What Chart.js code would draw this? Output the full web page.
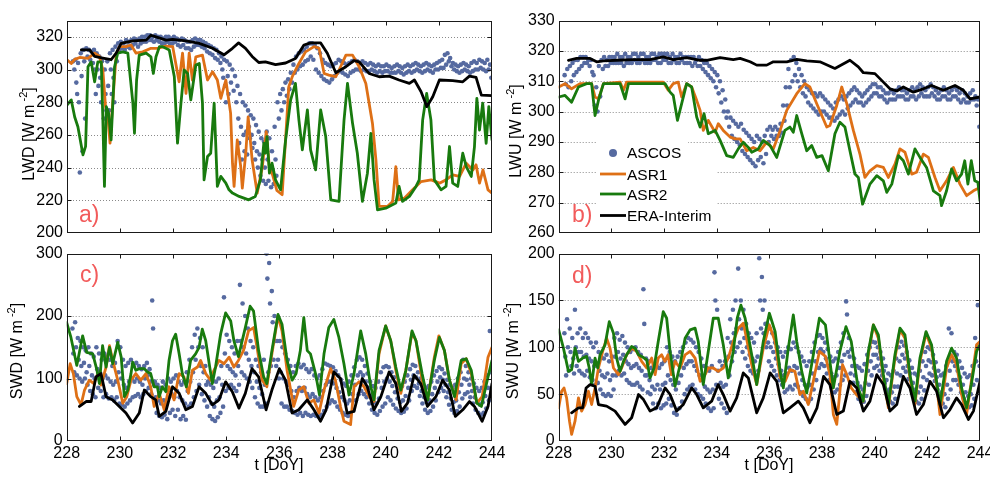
<!DOCTYPE html>
<html><head><meta charset="utf-8">
<script src="https://cdn.jsdelivr.net/npm/chart.js@4.4.1/dist/chart.umd.min.js"></script>
<style>
html,body{margin:0;padding:0;background:#fff;overflow:hidden;width:990px;height:480px;position:relative;}
canvas{position:absolute;}
</style></head><body>
<canvas id="ca"></canvas><canvas id="cb"></canvas><canvas id="cc"></canvas><canvas id="cd"></canvas>
<script>
// ---------- axis ticks ----------
const xTicks = [228,230,232,234,236,238,240,242,244];
const yTicksA = [200,220,240,260,280,300,320];
const yTicksB = [260,270,280,290,300,310,320,330];
const yTicksC = [0,100,200,300];
const yTicksD = [0,50,100,150,200];
const seriesNames = ['ASCOS','ASR1','ASR2','ERA-Interim'];

// ---------- ASCOS observations: bins of 0.1 day starting at 228.2, several readings per bin ----------
const ascosT0 = 228.2, ascosDt = 0.1;
const ascosA = [
[305,300],[306,292,285],[304,280,237],[310,296,250],[312,305,270],[313,308],[312,306],[311,304],[312,300,285],[310,300,290],
[308,295,280],[305,290,270],[300,285,275],[305,290,275],[310,300,285],[312,295,280],[314,305],[316,312],[317,313],[316,312],
[318,314],[317,313],[318,315],[319,316],[318,314],[319,316],[320,317],[320,317],[321,318],[321,318],
[320,317],[321,318],[320,317],[320,316],[319,316],[320,317],[320,316],[319,316],[320,317],[319,315],
[318,314],[319,315],[318,313],[317,313],[317,312],[318,314],[319,315],[318,315],[318,314],[317,313],
[316,311],[315,310],[314,309],[313,307],[312,306],[310,304],[308,300,295],[306,290,280],[305,296,285],[303,292],
[300,287],[296,280],[290,270,255],[285,265,245],[280,260,250],[278,262,248],[275,265,258],[272,260,252],[270,255,245],[266,250,240],
[262,248,235],[258,245,232],[256,240,230],[262,245,232],[258,240,228],[250,238,230],[265,245,235],[280,270],[285,275],[288,280],
[292,284],[294,288],[298,292],[303,298],[308,300],[310,302],[311,303],[312,305],[314,306],[316,308],
[316,306],[315,300],[313,298],[310,296],[306,294],[304,293],[303,292],[302,294],[303,296],[304,298],
[306,299],[305,298],[304,297],[303,296],[304,298],[305,299],[306,300],[305,300],[304,299],[305,300],
[304,299],[303,299],[304,300],[303,299],[302,298],[303,299],[302,298],[302,299],[303,299],[302,298],
[301,298],[302,298],[303,299],[302,298],[301,297],[302,298],[303,299],[302,298],[303,299],[304,300],
[303,299],[302,298],[303,299],[304,300],[303,299],[302,298],[303,300],[304,300],[305,301],[306,301],
[309,303],[310,305],[307,302],[304,300],[303,299],[302,298],[303,299],[304,300],[303,299],[302,298],
[304,299],[305,300],[304,300],[306,301],[305,300],[304,299],[306,300],[303,295]];
const ascosB = [
[312,309],[314,308],[315,310],[316,312],[317,313],[317,314],[318,315],[318,316],[318,316],[317,315],
[317,313],[312,302],[308,300],[315,305],[317,314],[318,315],[317,315],[318,316],[318,316],[318,316],
[319,316],[318,316],[318,315],[319,316],[318,316],[318,316],[319,317],[319,316],[318,316],[319,317],
[319,316],[318,316],[318,316],[319,317],[319,317],[318,316],[319,316],[319,317],[319,317],[319,316],
[318,316],[319,317],[318,316],[318,316],[319,317],[318,316],[318,316],[318,316],[318,315],[318,316],
[317,315],[318,315],[317,314],[316,313],[316,312],[315,311],[314,310],[313,308],[312,306],[310,303],
[307,300],[304,298],[300,295],[298,292],[297,291],[296,290],[295,289],[296,287],[294,286],[293,285],
[292,284],[291,283],[290,282],[292,284],[291,285],[290,283],[292,286],[294,290],[295,292],[294,291],
[295,292],[294,292],[296,293],[302,297],[308,302],[314,308],[317,310],[318,312],[316,310],[314,308],
[312,306],[310,305],[308,303],[307,302],[306,301],[306,300],[305,299],[306,300],[305,300],[304,299],
[303,298],[302,298],[301,297],[303,298],[304,299],[305,300],[304,299],[305,301],[306,302],[307,303],
[308,304],[307,303],[306,303],[305,302],[306,303],[307,304],[308,305],[309,306],[309,306],[308,305],
[308,305],[307,304],[306,303],[306,304],[307,304],[306,304],[307,305],[308,305],[307,305],[307,304],
[306,304],[307,305],[308,305],[307,304],[308,305],[309,306],[308,305],[307,305],[308,305],[309,306],
[308,305],[307,304],[306,304],[307,305],[308,305],[307,304],[306,304],[307,305],[308,305],[307,304],
[306,303],[307,304],[306,303],[305,303],[306,304],[307,304],[305,302],[304,295]];
const ascosC = [
[180,140,110],[190,150,105],[165,130,100],[160,120,95],[150,125,100],[145,110,90],[150,120,80],[140,105,75],[135,100,70],[150,115,85],
[140,110,80],[130,100,70],[140,105,75],[135,100,68],[130,95,70],[120,90,65],[125,95,70],[160,110,60],[150,100,58],[130,90,55],
[120,85,60],[125,95,65],[130,100,70],[120,95,72],[125,100,75],[120,95,70],[115,90,75],[120,100,80],[125,105,85],[115,95,75],
[225,180,90],[95,70,45],[90,65,40],[85,60,38],[95,65,42],[90,60,35],[100,70,45],[95,75,50],[100,70,40],[105,80,50],
[95,70,35],[90,65,40],[95,60,34],[110,80,55],[130,95,60],[150,110,70],[170,130,80],[180,150,90],[165,120,75],[150,110,65],
[120,90,55],[95,70,40],[90,60,35],[85,55,32],[95,65,38],[100,70,45],[120,90,55],[230,140,80],[170,120,85],[160,115,90],
[150,110,85],[140,105,80],[160,120,90],[250,160,110],[220,150,105],[200,140,100],[180,130,95],[160,120,85],[150,110,70],[130,95,60],
[120,85,55],[110,75,55],[130,90,60],[300,260,110],[285,220,120],[240,190,130],[200,160,120],[160,130,100],[160,110,60],[150,100,55],
[140,95,55],[130,90,50],[120,80,48],[110,70,45],[120,80,42],[124,85,45],[118,80,40],[122,85,45],[115,75,42],[110,70,40],
[115,75,42],[105,70,40],[100,65,39],[105,70,42],[115,80,48],[124,90,55],[122,95,60],[120,95,65],[118,92,62],[112,85,55],
[105,78,50],[98,70,45],[92,65,42],[88,60,40],[95,65,45],[105,75,50],[118,90,65],[130,105,75],[134,110,80],[130,105,75],
[120,95,70],[108,85,60],[95,72,50],[88,62,45],[85,60,42],[95,68,48],[110,85,55],[118,95,60],[120,100,70],[118,95,65],
[110,88,58],[102,78,52],[92,68,48],[85,62,45],[88,65,47],[95,72,52],[105,85,65],[115,98,80],[122,105,88],[120,102,85],
[110,92,72],[100,80,60],[90,70,50],[85,62,45],[88,65,48],[95,75,55],[105,85,65],[112,95,78],[118,102,85],[115,98,80],
[108,90,70],[98,78,58],[90,68,50],[85,62,45],[90,65,48],[100,78,55],[110,90,68],[130,100,75],[120,98,78],[110,90,70],
[100,80,60],[92,70,50],[85,62,45],[80,58,42],[85,62,45],[95,72,52],[105,85,65],[176,110,80]];
const ascosD = [
[115,90,70],[130,100,75],[120,95,80],[110,88,72],[140,100,80],[115,95,75],[120,95,72],[110,90,70],[115,92,75],[110,88,68],
[105,85,65],[100,80,60],[105,82,62],[95,75,55],[90,70,50],[88,68,48],[92,72,50],[85,65,48],[90,70,55],[110,90,70],
[115,95,75],[108,88,70],[112,92,72],[105,85,65],[100,82,62],[95,78,60],[98,80,60],[100,82,62],[95,78,58],[92,75,55],
[162,125,70],[88,70,52],[85,65,50],[78,58,40],[75,55,35],[80,60,40],[78,55,35],[82,60,38],[85,62,40],[100,70,45],
[95,65,38],[90,60,30],[85,55,28],[90,62,35],[95,70,42],[100,78,50],[105,82,55],[110,85,58],[108,85,60],[105,80,55],
[100,75,50],[95,70,48],[88,65,45],[80,58,40],[78,55,35],[75,52,32],[80,55,35],[180,150,60],[140,75,45],[85,62,40],
[80,58,35],[85,60,30],[110,90,70],[130,105,85],[140,115,95],[150,120,100],[184,130,105],[150,120,95],[140,110,88],[125,100,80],
[115,92,75],[110,88,72],[105,85,70],[115,90,75],[195,150,120],[175,140,115],[150,125,100],[125,105,85],[120,100,80],[115,95,75],
[105,88,70],[100,82,65],[95,75,60],[90,70,52],[95,72,55],[100,78,58],[98,75,55],[105,80,60],[100,78,58],[95,72,52],
[90,65,48],[85,60,45],[80,58,42],[85,60,45],[95,72,55],[105,85,65],[112,95,78],[113,98,82],[110,95,80],[105,88,72],
[98,80,65],[90,72,58],[85,68,52],[88,70,55],[95,78,60],[105,85,65],[115,92,70],[149,135,95],[110,90,72],[98,80,62],
[88,70,52],[80,62,45],[78,58,42],[75,55,42],[82,62,48],[92,75,60],[100,85,70],[106,92,78],[105,92,80],[100,88,75],
[95,82,70],[88,75,62],[80,65,52],[72,55,42],[70,52,40],[75,58,45],[88,72,58],[100,85,70],[106,92,78],[102,88,74],
[95,80,66],[86,72,58],[78,62,48],[72,55,42],[70,52,40],[75,58,45],[85,68,54],[95,80,65],[100,86,72],[98,84,70],
[92,78,64],[84,68,55],[75,60,46],[70,52,40],[72,50,36],[80,60,45],[120,75,55],[115,85,65],[95,80,65],[92,75,60],
[85,68,52],[78,60,45],[72,52,40],[68,48,36],[70,50,38],[80,60,45],[110,85,65],[145,100,80]];

// ---------- model series: [DoY, value] ----------
const asr1A = [[228,306],[228.16,303.7],[228.29,306.2],[228.48,307.4],[228.79,306.8],[229.04,310],[229.22,308],[229.35,299.7],[229.45,277.3],[229.54,271],[229.62,255],[229.72,279.4],[229.85,308.8],[229.97,314],[230.22,314],[230.41,315],[230.6,310],[230.85,310.8],[231.16,313],[231.41,313],[231.72,314.3],[231.98,314],[232.22,292.5],[232.35,310],[232.48,285.4],[232.6,310],[232.72,293.6],[232.85,307.8],[233.1,308.8],[233.29,293.6],[233.48,298.6],[233.66,293.6],[233.79,282.4],[233.98,293.6],[234.16,273.2],[234.23,242.7],[234.29,228.5],[234.41,257],[234.54,240.6],[234.6,227.5],[234.73,248.8],[234.82,271],[234.97,244.7],[235.16,224.4],[235.35,240],[235.5,262],[235.62,240],[235.75,235],[235.9,226],[236.1,223.4],[236.35,289.5],[236.48,295.6],[236.73,303.7],[236.98,310.8],[237.3,314],[237.49,313],[237.68,297.6],[237.86,296.6],[238.12,295.6],[238.3,301.7],[238.5,308.8],[238.75,308.8],[239.0,301.7],[239.25,291.5],[239.5,267],[239.63,244.7],[239.75,216.3],[240.07,216.3],[240.26,219.3],[240.38,240.6],[240.48,220.3],[240.7,221.3],[241.01,226.4],[241.33,231.5],[241.71,232.5],[242.02,230.5],[242.27,232.5],[242.52,235.6],[242.78,234.6],[243.03,242.7],[243.28,238.6],[243.4,241.7],[243.53,230.5],[243.66,238.6],[243.85,226.4],[244,224.4]];
const asr2A = [[228,278.3],[228.16,281.4],[228.29,271],[228.41,265],[228.6,247.8],[228.7,253],[228.79,301.7],[228.91,304.7],[229.04,292.5],[229.16,304.7],[229.29,304.7],[229.35,269],[229.41,228.5],[229.48,277.3],[229.57,273.2],[229.66,257],[229.79,301.7],[229.91,310],[230.1,310.8],[230.29,310],[230.48,279.4],[230.54,261],[230.62,293.6],[230.72,308.8],[230.98,310],[231.16,307.8],[231.25,297.6],[231.35,307.8],[231.48,314],[231.6,314],[231.72,313],[231.85,312],[232.04,295.6],[232.16,255],[232.29,279.4],[232.41,299.7],[232.54,297.6],[232.66,281.4],[232.85,302.7],[232.98,303.7],[233.1,279.4],[233.16,232.5],[233.29,246.8],[233.41,248.8],[233.54,279.4],[233.66,228.5],[233.79,234.6],[233.98,230.5],[234.1,226.4],[234.23,224.4],[234.48,222.4],[234.84,220.3],[235.09,222.4],[235.28,232.5],[235.41,255],[235.47,248.8],[235.53,259],[235.62,236.6],[235.72,242.7],[235.85,232.5],[236.04,226.4],[236.23,257],[236.42,281.4],[236.6,291.5],[236.73,269.2],[236.86,250.9],[237.05,275.3],[237.17,250.9],[237.36,238.6],[237.55,275.3],[237.74,259],[237.93,220.3],[238.24,219.3],[238.43,269.2],[238.56,291.5],[238.75,267.1],[238.93,248.8],[239.12,219.3],[239.31,236.6],[239.44,261],[239.56,232.5],[239.69,214.2],[240.0,215.2],[240.38,218.3],[240.5,228.5],[240.63,219.3],[240.89,222.4],[241.14,228.5],[241.26,232.5],[241.39,269.2],[241.54,285.4],[241.7,269.2],[241.83,232.5],[242.08,226.4],[242.27,228.5],[242.4,252.9],[242.52,230.5],[242.71,228.5],[242.9,248.8],[243.03,240.6],[243.22,234.6],[243.34,252.9],[243.43,282.4],[243.53,263],[243.65,279.4],[243.78,254.9],[243.88,277.3],[244,257]];
const eraA = [[228.54,312],[228.85,312],[229.04,308],[229.35,307],[229.66,306],[229.85,310],[230.04,316],[230.48,317.5],[230.98,318],[231.16,321],[231.35,320],[231.73,318],[231.98,318.4],[232.48,317.5],[232.98,316],[233.48,313],[233.91,309],[234.23,313],[234.46,316.3],[234.72,313],[234.97,308],[235.22,304.3],[235.47,304.7],[235.85,303],[236.23,304],[236.6,306.8],[236.92,315],[237.17,316.3],[237.55,316.3],[237.8,310],[238.12,298],[238.5,301.7],[238.8,305.4],[239.0,304.7],[239.37,297.6],[239.75,295.6],[240.13,296],[240.5,293.6],[240.89,291.5],[241.08,293.6],[241.33,286.4],[241.55,277.3],[241.77,283.4],[242.02,293.6],[242.52,293.2],[242.9,292.5],[243.15,296],[243.4,295.2],[243.6,284.4],[244,284]];

const asr1B = [[228,308.1],[228.24,309.2],[228.49,307.5],[228.81,309.2],[229.25,309.2],[229.38,304.8],[229.51,304.2],[229.7,309.2],[230.33,309.7],[230.46,307],[230.58,309.7],[231.47,309.7],[231.97,309.7],[232.16,307],[232.35,309.2],[232.54,309.7],[232.67,304.8],[232.86,309.2],[233.05,308.1],[233.24,303.7],[233.37,300.4],[233.49,293.8],[233.68,297.1],[233.94,293.2],[234.06,296],[234.25,293.8],[234.51,291.6],[234.7,291],[234.89,291],[235.14,287.1],[235.39,288.2],[235.65,287.1],[235.9,289.9],[236.15,287.7],[236.41,293.8],[236.66,300.4],[237.04,305.9],[237.35,309.2],[237.54,308.1],[237.8,302.6],[238.18,294.9],[238.3,295.4],[238.56,302],[238.75,308.1],[238.94,302.6],[239.19,293.8],[239.44,286],[239.63,278.3],[239.82,280.5],[240.08,282.2],[240.33,281.6],[240.52,278.3],[240.77,282.7],[240.96,287.7],[241.15,286.6],[241.41,279.4],[241.59,280],[241.85,286],[242.04,284.9],[242.29,278.3],[242.48,273.9],[242.73,277.2],[242.99,281.6],[243.24,276.1],[243.49,272.3],[243.75,273.9],[244,275]];
const asr2B = [[228,304.8],[228.24,305.3],[228.49,303.1],[228.75,308.1],[229.06,309.2],[229.25,309.2],[229.38,298.7],[229.51,303.7],[229.7,309.2],[230.33,309.2],[230.52,304.2],[230.65,309.2],[232.04,309.2],[232.23,306.4],[232.35,305.3],[232.51,297.1],[232.67,302.6],[232.86,309.2],[233.05,308.1],[233.24,298.2],[233.37,294.9],[233.52,299.3],[233.68,292.7],[233.94,293.8],[234.13,290.5],[234.38,285.5],[234.63,284.9],[234.82,287.7],[235.01,289.9],[235.2,288.2],[235.33,286.6],[235.58,287.7],[235.77,290.5],[236.03,288.8],[236.28,284.9],[236.59,293.8],[236.78,294.9],[236.91,293.2],[237.04,298.7],[237.23,292.7],[237.42,287.1],[237.61,288.8],[237.8,284.9],[238,285.5],[238.24,280.5],[238.49,292.7],[238.68,296.5],[238.87,294.9],[239.06,287.1],[239.25,279.4],[239.38,278.3],[239.54,269.5],[239.82,276.1],[240.08,278.9],[240.33,277.2],[240.46,273.4],[240.65,276.1],[240.9,285.5],[241.09,283.8],[241.28,279.4],[241.53,287.7],[241.72,284.9],[241.97,281.6],[242.23,273.9],[242.48,272.3],[242.54,269],[242.73,273.9],[242.92,281.1],[243.11,277.2],[243.3,279.4],[243.42,283.8],[243.54,276.1],[243.67,283.8],[243.8,277.2],[243.92,276.7],[244,270.6]];
const eraB = [[228.37,316.9],[228.68,317.5],[229.19,317.5],[229.44,316.4],[229.7,316.7],[230.2,316.9],[230.84,317.1],[231.47,317.1],[231.97,318],[232.35,317.1],[232.86,317.8],[233.37,316.9],[233.62,316.9],[234.13,317.8],[234.63,317.1],[234.89,317.5],[235.27,316.4],[235.52,315.3],[235.9,315.3],[236.15,316.4],[236.66,316.4],[237.04,317.2],[237.42,316.7],[237.92,316.4],[238.49,314.2],[239.06,316.9],[239.38,314.7],[239.57,312.8],[240.01,312.5],[240.33,309.7],[240.58,307.5],[240.84,306.8],[241.09,308.1],[241.47,306.4],[241.85,307.5],[242.16,308.6],[242.61,307],[243.05,308.6],[243.37,307],[243.62,304.2],[244,304.8]];

const asr1C = [[228,92],[228.13,123.7],[228.25,107.9],[228.38,71],[228.54,57.9],[228.67,81.6],[228.85,97.4],[229.02,92],[229.17,107.9],[229.29,89.5],[229.48,118.4],[229.61,152.6],[229.73,129],[229.92,97.4],[230.11,60.5],[230.26,71],[230.42,97.4],[230.6,107.9],[230.79,97.4],[230.98,107.9],[231.16,86.8],[231.29,55.3],[231.48,76.3],[231.67,50],[231.85,86.8],[232.04,65.8],[232.23,107.9],[232.41,102.6],[232.58,76.3],[232.73,113.2],[232.92,118.4],[233.04,129],[233.23,107.9],[233.41,97.4],[233.54,113.2],[233.73,129],[233.92,123.7],[234.11,134.2],[234.29,118.4],[234.46,129],[234.65,144.7],[234.84,176.3],[235.03,181.6],[235.16,150],[235.35,97.4],[235.53,86.8],[235.72,139.5],[235.95,200],[236.1,176.3],[236.29,113.2],[236.54,55.3],[236.73,81.6],[236.92,86.8],[237.11,60.5],[237.3,65.8],[237.49,44.7],[237.68,81.6],[237.93,115.8],[238.11,97.4],[238.3,55.3],[238.43,31.6],[238.68,26.3],[238.81,86.8],[239,94.7],[239.19,86.8],[239.38,71],[239.56,63.2],[239.75,139.5],[240,184.2],[240.19,160.5],[240.38,113.2],[240.57,76.3],[240.76,113.2],[240.99,173.7],[241.14,160.5],[241.37,97.4],[241.58,65.8],[241.83,134.2],[242,168.4],[242.21,144.7],[242.4,97.4],[242.65,65.8],[242.84,123.7],[243.03,131.6],[243.22,107.9],[243.43,60.5],[243.63,71],[243.85,134.2],[244,150]];
const asr2C = [[228,189.5],[228.16,165.8],[228.38,121],[228.6,168.4],[228.75,142],[228.98,139.5],[229.14,113],[229.23,92],[229.35,152.6],[229.48,118.4],[229.61,150],[229.73,123.7],[229.92,157.9],[230.05,134.2],[230.17,71],[230.3,81.6],[230.42,107.9],[230.48,126.3],[230.6,113.2],[230.73,115.8],[230.92,115.8],[231.04,110.5],[231.16,107.9],[231.29,86.8],[231.41,86.8],[231.48,71],[231.6,86.8],[231.73,79],[231.85,129],[231.98,160.5],[232.1,171],[232.23,139.5],[232.35,107.9],[232.5,86.8],[232.66,129],[232.85,139.5],[232.98,150],[233.1,179],[233.23,160.5],[233.38,118.4],[233.48,92],[233.6,118.4],[233.79,171],[233.98,205],[234.17,192],[234.29,160.5],[234.46,135],[234.72,181.6],[234.9,215.8],[235.03,208],[235.22,144.7],[235.41,102.6],[235.53,92],[235.72,144.7],[235.95,202.6],[236.1,186.8],[236.29,129],[236.48,97.4],[236.63,107.9],[236.79,144.7],[236.92,197.4],[237.05,144.7],[237.17,139.5],[237.36,107.9],[237.51,73.7],[237.68,139.5],[237.86,181.6],[238.05,194.7],[238.24,165.8],[238.43,123.7],[238.62,73.7],[238.81,107.9],[239.06,176.3],[239.25,139.5],[239.44,86.8],[239.56,65.8],[239.75,144.7],[240,184.2],[240.19,160.5],[240.38,118.4],[240.57,81.6],[240.76,113.2],[240.99,176.3],[241.14,160.5],[241.37,107.9],[241.58,65.8],[241.83,129],[242.02,165.8],[242.21,144.7],[242.4,97.4],[242.59,71],[242.84,129],[243.03,131.6],[243.22,113.2],[243.43,60.5],[243.6,55.3],[243.85,102.6],[244,129]];
const eraC = [[228.48,55.3],[228.73,63.2],[228.92,63.2],[229.1,102.6],[229.29,107.9],[229.48,71],[229.73,65.8],[229.98,55.3],[230.23,44.7],[230.48,28.9],[230.73,44.7],[230.92,81.6],[231.16,71],[231.35,65.8],[231.48,39.5],[231.73,47.4],[231.98,86.8],[232.23,76.3],[232.48,50],[232.73,55.3],[232.98,86.8],[233.23,76.3],[233.48,57.9],[233.73,65.8],[233.98,94.7],[234.23,78.9],[234.48,52.6],[234.72,76.3],[234.97,115.8],[235.22,102.6],[235.5,50],[235.72,81.6],[236,115.8],[236.23,97.4],[236.48,44.7],[236.73,50],[237.05,65.8],[237.3,50],[237.55,31.6],[237.76,50],[238.05,110.5],[238.3,100],[238.55,44.7],[238.81,47.4],[239.12,100],[239.31,86.8],[239.56,50],[239.82,71],[240.13,110.5],[240.38,92],[240.59,47.4],[240.82,60.5],[241.07,105.3],[241.32,92],[241.57,55.3],[241.89,71],[242.14,97.4],[242.4,81.6],[242.62,39.5],[242.9,50],[243.15,63.2],[243.34,55.3],[243.63,31.6],[243.85,55.3],[244,92]];

const asr1D = [[228,35.4],[228.11,53.1],[228.2,56.6],[228.3,46],[228.41,21.2],[228.49,7.1],[228.62,21.2],[228.75,46],[228.87,31.9],[229,38.9],[229.13,53.1],[229.25,38.9],[229.38,56.6],[229.51,77.9],[229.67,95.6],[229.82,109.7],[229.95,99.1],[230.08,77.9],[230.27,70.8],[230.39,77.9],[230.58,92],[230.77,99.1],[230.96,95.6],[231.15,85],[231.34,77.9],[231.53,88.5],[231.66,70.8],[231.78,88.5],[231.91,92],[232.03,85],[232.15,92],[232.28,70.8],[232.42,85],[232.61,77.9],[232.8,92],[232.99,95.6],[233.18,88.5],[233.37,63.7],[233.56,70.8],[233.68,77.9],[233.87,77.9],[234.06,74.3],[234.25,77.9],[234.44,88.5],[234.63,106.2],[234.82,120.4],[235.01,125.7],[235.08,116.8],[235.33,81.4],[235.52,60.2],[235.77,99.1],[236,123.9],[236.22,106.2],[236.41,67.3],[236.6,63.7],[236.78,76.1],[236.97,74.3],[237.16,49.6],[237.29,53.1],[237.48,38.9],[237.67,63.7],[237.9,95.6],[238.13,90.3],[238.3,70.8],[238.43,28.3],[238.56,17.7],[238.68,53.1],[238.78,81.4],[238.94,70.8],[239.11,56.6],[239.3,49.6],[239.56,42.5],[239.76,92],[239.95,123.9],[240.14,109.7],[240.33,67.3],[240.52,35.4],[240.77,88.5],[240.96,118.6],[241.15,109.7],[241.34,67.3],[241.53,38.9],[241.72,85],[241.95,115],[242.16,99.1],[242.35,60.2],[242.48,28.3],[242.73,77.9],[242.92,92],[243.11,81.4],[243.3,49.6],[243.49,28.3],[243.67,63.7],[243.87,102.7],[244,106.2]];
const asr2D = [[228,118.6],[228.18,99.1],[228.37,74.3],[228.49,76.1],[228.62,99.1],[228.75,85],[228.91,88.5],[229.06,90.3],[229.16,77.9],[229.25,60.2],[229.38,88.5],[229.48,77.9],[229.57,92],[229.76,102.7],[229.92,127.4],[230.08,115],[230.2,88.5],[230.33,74.3],[230.46,85],[230.58,92],[230.77,100.9],[230.9,99.1],[231.03,92],[231.15,90.3],[231.34,86.7],[231.47,67.3],[231.62,77.9],[231.78,106.2],[231.97,138],[232.1,131],[232.23,95.6],[232.42,58.4],[232.61,81.4],[232.8,109.7],[232.99,118.6],[233.18,120.4],[233.3,106.2],[233.49,60.2],[233.68,95.6],[233.87,131],[234.06,131],[234.25,102.7],[234.44,67.3],[234.63,95.6],[234.78,131],[234.92,145],[235.08,131],[235.33,92],[235.52,60.2],[235.77,106.2],[236,136.3],[236.22,116.8],[236.41,74.3],[236.53,56.6],[236.72,99.1],[236.91,134.5],[237.04,106.2],[237.23,74.3],[237.42,51.3],[237.67,92],[237.9,131],[238.13,123.9],[238.3,85],[238.43,56.6],[238.68,95.6],[238.91,122.1],[239.11,106.2],[239.37,56.6],[239.56,42.5],[239.76,95.6],[239.95,123.9],[240.14,113.3],[240.33,70.8],[240.52,38.9],[240.77,92],[240.96,120.4],[241.15,113.3],[241.34,70.8],[241.53,42.5],[241.72,88.5],[241.95,116.8],[242.16,102.7],[242.35,63.7],[242.48,38.9],[242.73,85],[242.92,99.1],[243.11,88.5],[243.3,56.6],[243.49,35.4],[243.67,60.2],[243.87,95.6],[244,102.7]];
const eraD = [[228.49,30.1],[228.75,35.4],[228.91,35.4],[229.04,56.6],[229.19,60.2],[229.38,58.4],[229.51,38.9],[229.82,37.2],[230.14,31.9],[230.52,17.7],[230.77,24.8],[231.03,49.6],[231.22,44.2],[231.47,31.9],[231.72,35.4],[232.04,56.6],[232.23,49.6],[232.48,31.9],[232.73,38.9],[233.05,56.6],[233.24,49.6],[233.49,35.4],[233.81,42.5],[234.06,60.2],[234.25,49.6],[234.51,31.9],[234.76,46],[235.01,72.6],[235.2,67.3],[235.52,30.1],[235.77,46],[236.03,72.6],[236.28,63.7],[236.53,30.1],[236.78,35.4],[237.1,42.5],[237.29,35.4],[237.54,19.5],[237.81,35.4],[238.06,69],[238.3,60.2],[238.56,28.3],[238.81,31.9],[239.06,63.7],[239.32,56.6],[239.57,31.9],[239.82,42.5],[240.08,70.8],[240.33,60.2],[240.58,31.9],[240.84,38.9],[241.09,69],[241.34,56.6],[241.59,28.3],[241.85,38.9],[242.1,63.7],[242.35,53.1],[242.61,24.8],[242.86,33.6],[243.11,46],[243.3,38.9],[243.56,23],[243.75,31.9],[244,63.7]];

// ---------- styling ----------
const C_ASCOS = 'rgb(86,106,160)', C_ASR1 = 'rgb(222,112,22)', C_ASR2 = 'rgb(24,122,14)', C_ERA = '#000';
const FONT = '"Liberation Sans", Arial, Helvetica, sans-serif';
const LABEL_COLOR = '#f25b5b';

function binsToPoints(t0, dt, bins) {
  const pts = [];
  bins.forEach((b, i) => b.forEach((v, j) => pts.push({x: t0 + i*dt + (j+0.5)*dt/b.length, y: v})));
  return pts;
}
const toPts = arr => arr.map(([x, y]) => ({x, y}));

function yTitle(ctx, name, cx, cy) {
  ctx.save();
  ctx.translate(cx, cy); ctx.rotate(-Math.PI/2);
  ctx.fillStyle = '#000'; ctx.textBaseline = 'alphabetic'; ctx.textAlign = 'left';
  const f1 = '16px ' + FONT, f2 = '11px ' + FONT;
  const p1 = name + ' [W m', p2 = ' -2', p3 = ']';
  ctx.font = f1; const w1 = ctx.measureText(p1).width, w3 = ctx.measureText(p3).width;
  ctx.font = f2; const w2 = ctx.measureText(p2).width;
  let x = -(w1 + w2 + w3)/2;
  ctx.font = f1; ctx.fillText(p1, x, 0); x += w1;
  ctx.font = f2; ctx.fillText(p2, x, -7); x += w2;
  ctx.font = f1; ctx.fillText(p3, x, 0);
  ctx.restore();
}

function makePlugin(p) {
  return {
    id: 'frame_' + p.id,
    beforeDatasetsDraw(chart) {
      const {ctx, chartArea: a, scales: {y}} = chart;
      ctx.save();
      ctx.strokeStyle = '#8a8a8a'; ctx.lineWidth = 1; ctx.setLineDash([1, 2]);
      p.yticks.filter(v => v > p.ymin && v < p.ymax).forEach(v => {
        const py = Math.round(y.getPixelForValue(v)) + 0.5;
        ctx.beginPath(); ctx.moveTo(a.left, py); ctx.lineTo(a.right, py); ctx.stroke();
      });
      ctx.restore();
    },
    afterDraw(chart) {
      const {ctx, chartArea: a, scales: {x, y}} = chart;
      const ox = p.left, oy = p.top;
      ctx.save();
      if (p.legend) {
        ctx.fillStyle = '#fff';
        ctx.fillRect(597 - ox, 138 - oy, 91, 6);
        ctx.fillRect(596 - ox, 144 - oy, 120, 84);
        const rows = [152.5, 174, 194, 215.5];
        chart.data.datasets.forEach((ds, i) => {
          const ry = rows[i] - oy;
          if (i === 0) {
            ctx.fillStyle = ds.pointBackgroundColor;
            ctx.beginPath(); ctx.arc(613 - ox, ry + 0.5, 4, 0, 2*Math.PI); ctx.fill();
          } else {
            ctx.strokeStyle = ds.borderColor; ctx.lineWidth = 2.8;
            ctx.beginPath(); ctx.moveTo(600 - ox, ry); ctx.lineTo(626 - ox, ry); ctx.stroke();
          }
          ctx.fillStyle = '#000'; ctx.font = '15.5px ' + FONT; ctx.textBaseline = 'alphabetic'; ctx.textAlign = 'left';
          ctx.fillText(ds.label, 627 - ox, ry + 5.6);
        });
      }
      const L = Math.round(a.left) + 0.5, R = Math.round(a.right) - 0.5, T = Math.round(a.top) + 0.5, B = Math.round(a.bottom) - 0.5;
      ctx.strokeStyle = '#1a1a1a'; ctx.lineWidth = 1; ctx.setLineDash([]);
      ctx.strokeRect(L, T, R - L, B - T);
      ctx.beginPath();
      xTicks.filter(v => v > 228 && v < 244).forEach(v => {
        const px = Math.round(x.getPixelForValue(v)) + 0.5;
        ctx.moveTo(px, B); ctx.lineTo(px, B - 4);
        ctx.moveTo(px, T); ctx.lineTo(px, T + 4);
      });
      p.yticks.filter(v => v > p.ymin && v < p.ymax).forEach(v => {
        const py = Math.round(y.getPixelForValue(v)) + 0.5;
        ctx.moveTo(L, py); ctx.lineTo(L + 4, py);
        ctx.moveTo(R, py); ctx.lineTo(R - 4, py);
      });
      ctx.stroke();
      ctx.fillStyle = LABEL_COLOR; ctx.font = '23px ' + FONT; ctx.textAlign = 'left'; ctx.textBaseline = 'alphabetic';
      ctx.fillText(p.label, p.labelX - ox, p.labelY - oy);
      yTitle(ctx, p.title, p.titleX - ox, p.titleY - oy);
      if (p.xtitleX) {
        ctx.fillStyle = '#000'; ctx.font = '16px ' + FONT; ctx.textAlign = 'center'; ctx.textBaseline = 'alphabetic';
        ctx.fillText('t [DoY]', p.xtitleX - ox, 470 - oy);
      }
      ctx.restore();
    }
  };
}

const panels = [
  {id:'ca', left:0, top:0, w:500, h:250, yw:67, padTop:20.5, padRight:8, xh:17, showX:false, ymin:200, ymax:330, yticks:yTicksA,
   ascos:ascosA, asr1:asr1A, asr2:asr2A, era:eraA, label:'a)', labelX:79, labelY:221.5, title:'LWD', titleX:33.5, titleY:134},
  {id:'cb', left:500, top:0, w:490, h:250, yw:58.7, padTop:20.5, padRight:10, xh:17, showX:false, ymin:260, ymax:330, yticks:yTicksB,
   ascos:ascosB, asr1:asr1B, asr2:asr2B, era:eraB, label:'b)', labelX:572, labelY:221.5, title:'LWU', titleX:520.5, titleY:131, legend:true},
  {id:'cc', left:0, top:240, w:515, h:240, yw:66.7, padTop:11.5, padRight:23, xh:39, showX:true, ymin:0, ymax:300, yticks:yTicksC,
   ascos:ascosC, asr1:asr1C, asr2:asr2C, era:eraC, label:'c)', labelX:80, labelY:281.5, title:'SWD', titleX:21.5, titleY:351, xtitleX:279},
  {id:'cd', left:500, top:240, w:500, h:240, yw:58.7, padTop:11.5, padRight:20, xh:39, showX:true, ymin:0, ymax:200, yticks:yTicksD,
   ascos:ascosD, asr1:asr1D, asr2:asr2D, era:eraD, label:'d)', labelX:572, labelY:283, title:'SWU', titleX:517.5, titleY:351, xtitleX:769}
];

panels.forEach(p => {
  const cv = document.getElementById(p.id);
  cv.width = p.w; cv.height = p.h;
  cv.style.left = p.left + 'px'; cv.style.top = p.top + 'px';
  cv.style.width = p.w + 'px'; cv.style.height = p.h + 'px';
  const lineDs = (label, data, color, order) => ({
    label, data: toPts(data), showLine: true, borderColor: color, backgroundColor: color,
    borderWidth: 2.8, pointRadius: 0, pointHoverRadius: 0, tension: 0, order, clip: 0,
    borderJoinStyle: 'round', borderCapStyle: 'round'
  });
  new Chart(cv, {
    type: 'scatter',
    data: { datasets: [
      { label: seriesNames[0], data: binsToPoints(ascosT0, ascosDt, p.ascos), showLine: false,
        pointRadius: 2.3, pointHoverRadius: 0, pointBorderWidth: 0, pointBackgroundColor: C_ASCOS, backgroundColor: C_ASCOS,
        borderColor: C_ASCOS, order: 4, clip: 0 },
      lineDs(seriesNames[1], p.asr1, C_ASR1, 3),
      lineDs(seriesNames[2], p.asr2, C_ASR2, 2),
      lineDs(seriesNames[3], p.era, C_ERA, 1)
    ]},
    options: {
      responsive: false, maintainAspectRatio: false, animation: false, devicePixelRatio: 1, events: [],
      layout: { padding: { left: 0, top: p.padTop, right: p.padRight, bottom: 0 } },
      plugins: { legend: { display: false }, tooltip: { enabled: false } },
      scales: {
        x: {
          type: 'linear', min: 228, max: 244,
          afterBuildTicks: s => { s.ticks = xTicks.map(v => ({value: v})); },
          afterFit: s => { s.height = p.xh; },
          grid: { display: false, drawTicks: false }, border: { display: false },
          ticks: { display: p.showX, color: '#000', font: { family: FONT, size: 16 }, padding: 3,
                   maxRotation: 0, autoSkip: false, callback: v => String(v) }
        },
        y: {
          type: 'linear', min: p.ymin, max: p.ymax,
          afterBuildTicks: s => { s.ticks = p.yticks.map(v => ({value: v})); },
          afterFit: s => { s.width = p.yw; },
          grid: { display: false, drawTicks: false }, border: { display: false },
          ticks: { color: '#000', font: { family: FONT, size: 16 }, padding: 4, autoSkip: false, callback: v => String(v) }
        }
      }
    },
    plugins: [makePlugin(p)]
  });
});
</script>
</body></html>
